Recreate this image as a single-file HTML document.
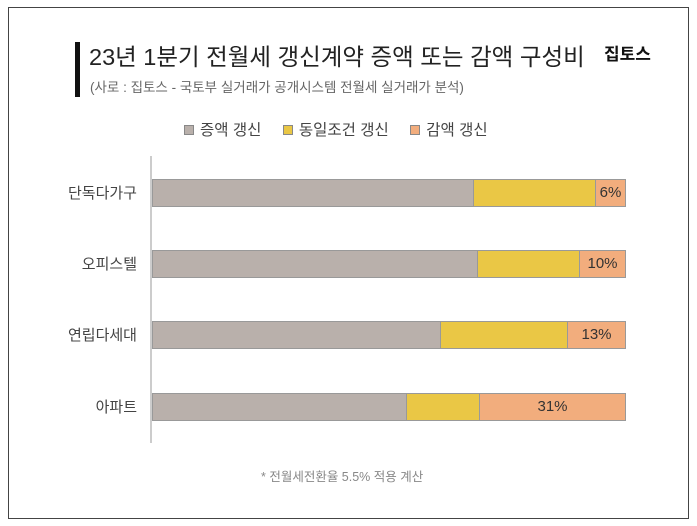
<!DOCTYPE html>
<html><head><meta charset="utf-8"><style>
*{margin:0;padding:0;box-sizing:border-box}
body{width:697px;height:526px;background:#fff;position:relative;overflow:hidden;font-family:"Liberation Sans","Noto Sans CJK KR",sans-serif;color:#333}
.frame{position:absolute;left:8px;top:7px;width:681px;height:512px;border:1px solid #444}
.t{position:absolute;white-space:nowrap}
.bar{position:absolute;height:28px;border:1px solid #999;}
.g{background:#b9b0ab}.y{background:#eac745}.o{background:#f2ad7d;text-align:center;font-size:15px;line-height:26px;color:#333}
.lab{position:absolute;right:560px;font-size:15px;color:#444;text-align:right}
.lg{display:inline-block;width:10px;height:10px;border:1px solid #888;margin-right:6px;vertical-align:0px}
</style></head><body>
<div class="frame"></div>
<div style="position:absolute;left:75px;top:42px;width:5px;height:55px;background:#111"></div>
<div class="t" style="left:89px;top:38px;font-size:23.5px;color:#222">23년 1분기 전월세 갱신계약 증액 또는 감액 구성비</div>
<div class="t" style="left:604px;top:40px;font-size:17px;font-weight:bold;color:#111">집토스</div>
<div class="t" style="left:90px;top:76px;font-size:13.5px;color:#666">(사로 : 집토스 - 국토부 실거래가 공개시스템 전월세 실거래가 분석)</div>
<div class="t" style="left:184px;top:118px;font-size:15.5px;color:#444"><span class="lg" style="background:#b9b0ab"></span>증액 갱신&nbsp;&nbsp;&nbsp;&nbsp;&nbsp;<span class="lg" style="background:#eac745"></span>동일조건 갱신&nbsp;&nbsp;&nbsp;&nbsp;&nbsp;<span class="lg" style="background:#f2ad7d"></span>감액 갱신</div>
<div style="position:absolute;left:150px;top:156px;width:2px;height:287px;background:#ccc"></div>

<div class="lab" style="top:182px">단독다가구</div>
<div class="bar g" style="left:152px;top:179px;width:322px"></div>
<div class="bar y" style="left:473px;top:179px;width:123px"></div>
<div class="bar o" style="left:595px;top:179px;width:31px">6%</div>

<div class="lab" style="top:253px">오피스텔</div>
<div class="bar g" style="left:152px;top:250px;width:326px"></div>
<div class="bar y" style="left:477px;top:250px;width:103px"></div>
<div class="bar o" style="left:579px;top:250px;width:47px">10%</div>

<div class="lab" style="top:324px">연립다세대</div>
<div class="bar g" style="left:152px;top:321px;width:289px"></div>
<div class="bar y" style="left:440px;top:321px;width:128px"></div>
<div class="bar o" style="left:567px;top:321px;width:59px">13%</div>

<div class="lab" style="top:396px">아파트</div>
<div class="bar g" style="left:152px;top:393px;width:255px"></div>
<div class="bar y" style="left:406px;top:393px;width:74px"></div>
<div class="bar o" style="left:479px;top:393px;width:147px">31%</div>

<div class="t" style="left:261px;top:466px;font-size:12.5px;color:#888">* 전월세전환율 5.5% 적용 계산</div>
</body></html>
